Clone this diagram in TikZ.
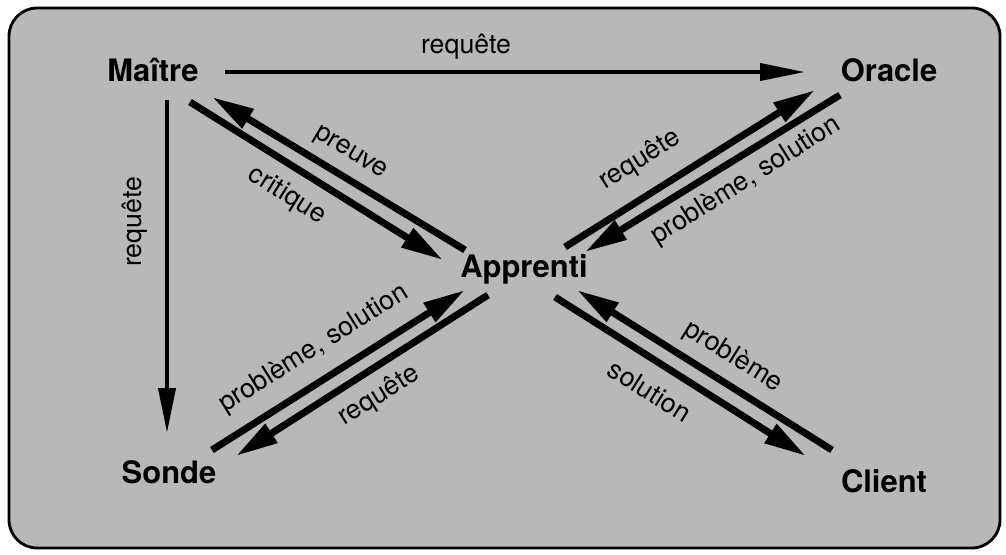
\documentclass[tikz,border=0pt]{standalone}
\usepackage{fontspec}
\setmainfont{TeX Gyre Heros}
\usetikzlibrary{arrows.meta}

\tikzset{
  agent/.style={font=\bfseries\fontsize{22}{22}\selectfont, anchor=base, inner sep=0pt},
  lbl/.style={font=\fontsize{19}{19}\selectfont, inner sep=0pt},
  flow/.style={line width=5pt, -{Triangle[length=30pt,width=15pt]}},
  direct/.style={line width=3pt, -{Triangle[length=32pt,width=12pt]}}
}

\begin{document}
\begin{tikzpicture}[x=0.025cm,y=-0.025cm]
\useasboundingbox (0,0) rectangle (1006,554);
\draw[line width=2pt, fill=black!28, rounded corners=20pt] (9,8) rectangle (1000,548);

 \node[agent] (ma) at (153,81) {Maître};
 \node[agent] (or) at (889,81) {Oracle};
 \node[agent] (ap) at (524,277) {Apprenti};
 \node[agent] (so) at (169,483) {Sonde};
 \node[agent] (cl) at (884,492) {Client};

\draw[direct] ([shift={(72,-9)}]ma.base) -- ([shift={(-84,-9)}]or.base);
\draw[direct] ([shift={(14,19)}]ma.base) -- ([shift={(-2,-50)}]so.base);

\draw[flow] ([shift={(37,21)}]ma.base) -- ([shift={(-81,-17)}]ap.base);
\draw[flow] ([shift={(-59,-27)}]ap.base) -- ([shift={(59,16)}]ma.base);

\draw[flow] ([shift={(41,-30)}]ap.base) -- ([shift={(-74,9)}]or.base);
\draw[flow] ([shift={(-49,14)}]or.base) -- ([shift={(61,-25)}]ap.base);

\draw[flow] ([shift={(43,-33)}]so.base) -- ([shift={(-59,13)}]ap.base);
\draw[flow] ([shift={(-36,18)}]ap.base) -- ([shift={(67,-27)}]so.base);

\draw[flow] ([shift={(31,20)}]ap.base) -- ([shift={(-78,-36)}]cl.base);
\draw[flow] ([shift={(-52,-42)}]cl.base) -- ([shift={(53,13)}]ap.base);

 \node[lbl] (l1) at (466,47) {requête};
 \node[lbl, rotate=90] (l2) at (135,222) {requête};
 \node[lbl, rotate=-31] (l3) at (350,154) {preuve};
 \node[lbl, rotate=-32] (l4) at (287,196) {critique};
 \node[lbl, rotate=32] (l5) at (640,160) {requête};
 \node[lbl, rotate=32] (l6) at (746,181) {problème, solution};
 \node[lbl, rotate=32] (l7) at (314,349) {problème, solution};
 \node[lbl, rotate=32] (l8) at (379,396) {requête};
 \node[lbl, rotate=-32] (l9) at (733,357) {problème};
 \node[lbl, rotate=-32] (l10) at (650,391) {solution};
\end{tikzpicture}
\end{document}
